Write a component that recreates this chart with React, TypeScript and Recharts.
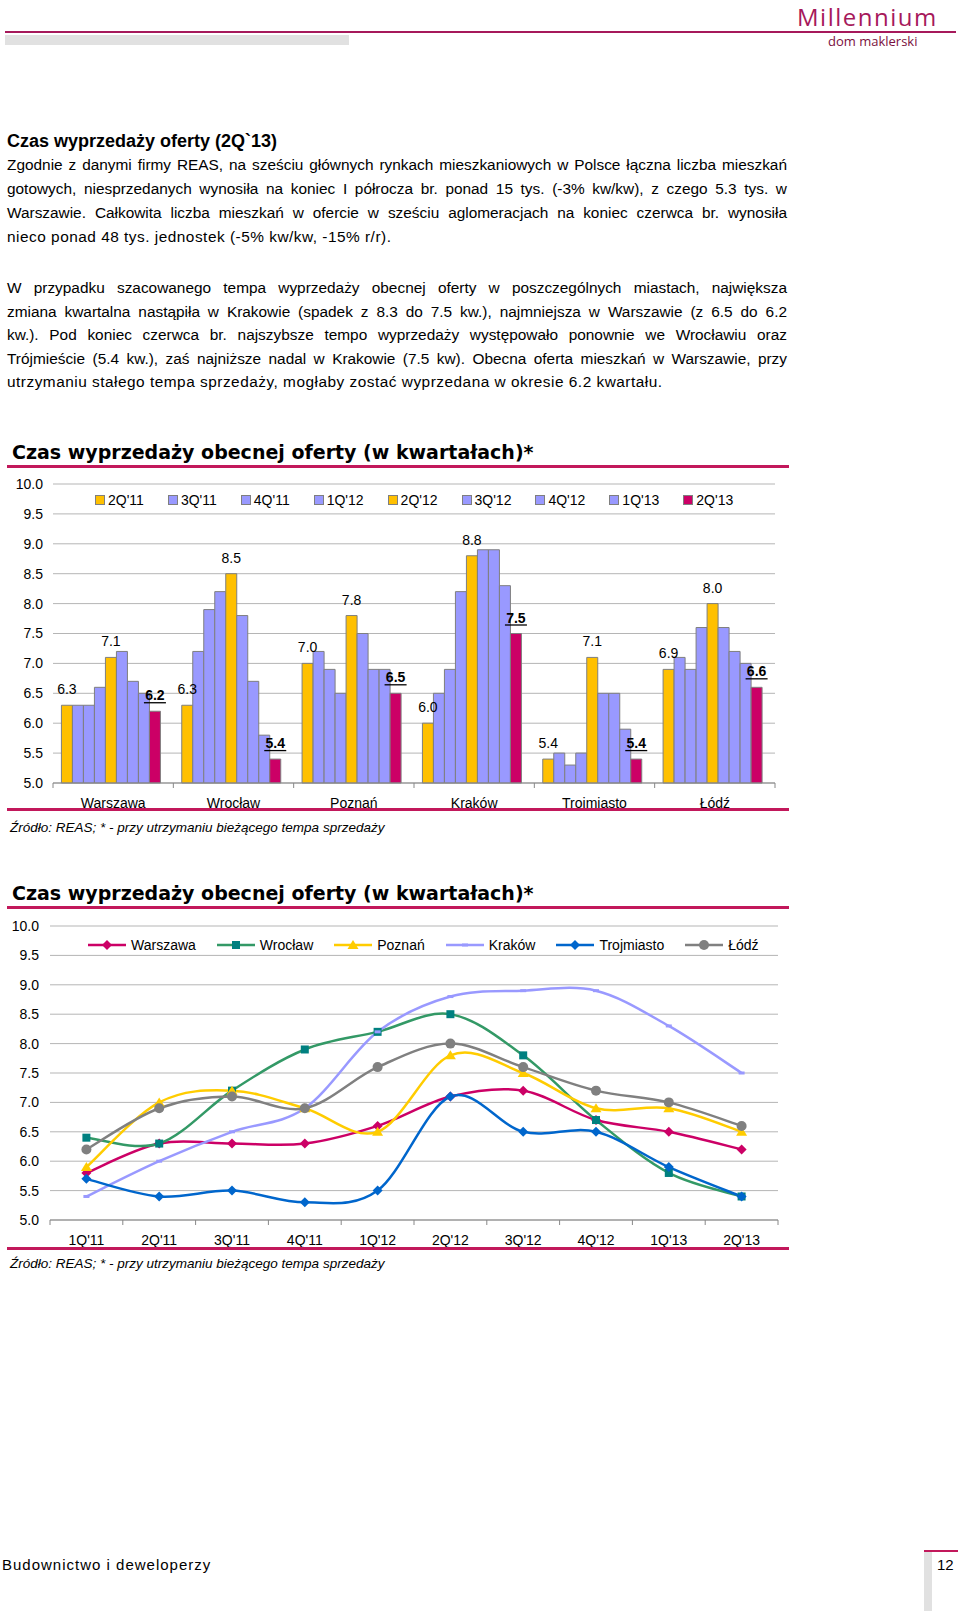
import React from 'react';
import { BarChart, Bar, LineChart, Line, XAxis, YAxis, CartesianGrid, Legend, LabelList } from 'recharts';

const FONT = '"Liberation Sans", Arial, sans-serif';
const TITLE_FONT = '"DejaVu Sans", Verdana, sans-serif';
const MAGENTA = '#C2185B';

const cities = ['Warszawa', 'Wrocław', 'Poznań', 'Kraków', 'Trojmiasto', 'Łódź'];
const quarters = ["1Q'11", "2Q'11", "3Q'11", "4Q'11", "1Q'12", "2Q'12", "3Q'12", "4Q'12", "1Q'13", "2Q'13"];
// bar chart starts from 2Q'11
const barQuarters = quarters.slice(1);

const warszawa = [5.8, 6.3, 6.3, 6.3, 6.6, 7.1, 7.2, 6.7, 6.5, 6.2];
const wroclaw = [6.4, 6.3, 7.2, 7.9, 8.2, 8.5, 7.8, 6.7, 5.8, 5.4];
const poznan = [5.9, 7.0, 7.2, 6.9, 6.5, 7.8, 7.5, 6.9, 6.9, 6.5];
const krakow = [5.4, 6.0, 6.5, 6.9, 8.2, 8.8, 8.9, 8.9, 8.3, 7.5];
const trojmiasto = [5.7, 5.4, 5.5, 5.3, 5.5, 7.1, 6.5, 6.5, 5.9, 5.4];
const lodz = [6.2, 6.9, 7.1, 6.9, 7.6, 8.0, 7.6, 7.2, 7.0, 6.6];

const yTicks = [5, 5.5, 6, 6.5, 7, 7.5, 8, 8.5, 9, 9.5, 10];

const cityValues = [warszawa, wroclaw, poznan, krakow, trojmiasto, lodz];

const barFill = ['#FFC000', '#9999FF', '#9999FF', '#9999FF', '#FFC000', '#9999FF', '#9999FF', '#9999FF', '#CC0066'];

const barData = cities.map((city, ci) => {
  const row: any = { city };
  barQuarters.forEach((q, qi) => {
    row['q' + qi] = cityValues[ci][qi + 1];
  });
  return row;
});

const lineData = quarters.map((q, i) => ({
  q,
  warszawa: warszawa[i],
  wroclaw: wroclaw[i],
  poznan: poznan[i],
  krakow: krakow[i],
  trojmiasto: trojmiasto[i],
  lodz: lodz[i],
}));

const lineSeries = [
  { key: 'warszawa', name: 'Warszawa', color: '#CC0066', marker: 'diamond', markerColor: '#CC0066' },
  { key: 'wroclaw', name: 'Wrocław', color: '#339966', marker: 'square', markerColor: '#008080' },
  { key: 'poznan', name: 'Poznań', color: '#FFCC00', marker: 'triangle', markerColor: '#FFCC00' },
  { key: 'krakow', name: 'Kraków', color: '#9999FF', marker: 'dash', markerColor: '#9999FF' },
  { key: 'trojmiasto', name: 'Trojmiasto', color: '#0066CC', marker: 'diamond', markerColor: '#0066CC' },
  { key: 'lodz', name: 'Łódź', color: '#808080', marker: 'circle', markerColor: '#808080' },
];

// smoothing similar to Excel's "smoothed line"
const excelCurve = (context: any) => {
  let pts: number[][] = [];
  return {
    areaStart() {},
    areaEnd() {},
    lineStart() {
      pts = [];
    },
    point(x: number, y: number) {
      pts.push([x, y]);
    },
    lineEnd() {
      const n = pts.length;
      if (!n) return;
      context.moveTo(pts[0][0], pts[0][1]);
      for (let i = 0; i < n - 1; i++) {
        const p0 = pts[i > 0 ? i - 1 : i];
        const p1 = pts[i];
        const p2 = pts[i + 1];
        const p3 = pts[i + 2 < n ? i + 2 : i + 1];
        context.bezierCurveTo(
          p1[0] + (p2[0] - p0[0]) / 6,
          p1[1] + (p2[1] - p0[1]) / 6,
          p2[0] - (p3[0] - p1[0]) / 6,
          p2[1] - (p3[1] - p1[1]) / 6,
          p2[0],
          p2[1]
        );
      }
    },
  };
};

const Marker = ({ kind, cx, cy, color }: any) => {
  switch (kind) {
    case 'diamond':
      return <path d={`M${cx},${cy - 5}L${cx + 5},${cy}L${cx},${cy + 5}L${cx - 5},${cy}Z`} fill={color} />;
    case 'square':
      return <rect x={cx - 4} y={cy - 4} width={8} height={8} fill={color} />;
    case 'triangle':
      return <path d={`M${cx},${cy - 5}L${cx + 5.5},${cy + 4}L${cx - 5.5},${cy + 4}Z`} fill={color} />;
    case 'dash':
      return <rect x={cx - 3} y={cy - 1.5} width={6} height={3} fill={color} />;
    default:
      return <circle cx={cx} cy={cy} r={5} fill={color} />;
  }
};

const makeBarLabel = (bold: boolean) => (props: any) => {
  const { x, y, width, value } = props;
  const cx = x + width / 2;
  return (
    <g>
      <text x={cx} y={y - 11} textAnchor="middle" fontSize={14} fontWeight={bold ? 700 : 400} fill="#000" fontFamily={FONT}>
        {Number(value).toFixed(1)}
      </text>
      {bold && <line x1={cx - 11} x2={cx + 11} y1={y - 8.5} y2={y - 8.5} stroke="#000" strokeWidth={1.3} />}
    </g>
  );
};

const makeTick = (band: number, count: number) => (props: any) => {
  const { x, y, payload, index } = props;
  const axisY = y - 8;
  const half = band / 2;
  return (
    <g>
      <line x1={x - half} x2={x - half} y1={axisY} y2={axisY + 5} stroke="#888" />
      {index === count - 1 && <line x1={x + half} x2={x + half} y1={axisY} y2={axisY + 5} stroke="#888" />}
      <text x={x} y={axisY + 25} textAnchor="middle" fontSize={14} fill="#000" fontFamily={FONT}>
        {payload.value}
      </text>
    </g>
  );
};

const BarLegend = () => (
  <div style={{ display: 'flex', gap: 24, fontSize: 14, fontFamily: FONT, color: '#000', whiteSpace: 'nowrap' }}>
    {barQuarters.map((q, qi) => (
      <div key={q} style={{ display: 'flex', alignItems: 'center' }}>
        <span style={{ width: 8, height: 8, background: barFill[qi], border: '1px solid #7f7f7f', marginRight: 3, boxSizing: 'content-box' }} />
        <span>{q}</span>
      </div>
    ))}
  </div>
);

const LineLegend = () => (
  <div style={{ display: 'flex', gap: 21, fontSize: 14, fontFamily: FONT, color: '#000', whiteSpace: 'nowrap' }}>
    {lineSeries.map((s) => (
      <div key={s.key} style={{ display: 'flex', alignItems: 'center' }}>
        <svg width={38} height={12}>
          <line x1={0} x2={38} y1={6} y2={6} stroke={s.color} strokeWidth={2.5} />
          <Marker kind={s.marker} cx={19} cy={6} color={s.markerColor} />
        </svg>
        <span style={{ marginLeft: 5 }}>{s.name}</span>
      </div>
    ))}
  </div>
);

const para1 = [
  'Zgodnie z danymi firmy REAS, na sześciu głównych rynkach mieszkaniowych w Polsce łączna liczba mieszkań',
  'gotowych, niesprzedanych wynosiła na koniec I półrocza br. ponad 15 tys. (-3% kw/kw), z czego 5.3 tys. w',
  'Warszawie. Całkowita liczba mieszkań w ofercie w sześciu aglomeracjach na koniec czerwca br. wynosiła',
  'nieco ponad 48 tys. jednostek (-5% kw/kw, -15% r/r).',
];
const para1Y = [165, 189, 213, 237];

const para2 = [
  'W przypadku szacowanego tempa wyprzedaży obecnej oferty w poszczególnych miastach, największa',
  'zmiana kwartalna nastąpiła w Krakowie (spadek z 8.3 do 7.5 kw.), najmniejsza w Warszawie (z 6.5 do 6.2',
  'kw.). Pod koniec czerwca br. najszybsze tempo wyprzedaży występowało ponownie we Wrocławiu oraz',
  'Trójmieście (5.4 kw.), zaś najniższe nadal w Krakowie (7.5 kw). Obecna oferta mieszkań w Warszawie, przy',
  'utrzymaniu stałego tempa sprzedaży, mogłaby zostać wyprzedana w okresie 6.2 kwartału.',
];
const para2Y = [288, 312, 335, 359, 382];

const TextLine = ({ text, cy, last }: any) => (
  <div
    style={{
      position: 'absolute',
      left: 7,
      top: cy - 10,
      width: 780,
      fontSize: 15.4,
      lineHeight: '20px',
      letterSpacing: last ? 0.5 : 0,
      textAlign: last ? 'left' : 'justify',
      textAlignLast: last ? 'left' : 'justify',
    }}
  >
    {text}
  </div>
);

const Rule = ({ y }: any) => (
  <div style={{ position: 'absolute', left: 7, top: y - 1, width: 782, height: 2.5, background: MAGENTA }} />
);

const ChartTitle = ({ cy }: any) => (
  <div
    style={{
      position: 'absolute',
      left: 12,
      top: cy - 12,
      fontFamily: TITLE_FONT,
      fontWeight: 700,
      fontSize: 19,
      lineHeight: '24px',
      whiteSpace: 'nowrap',
    }}
  >
    Czas wyprzedaży obecnej oferty (w kwartałach)*
  </div>
);

const Source = ({ cy }: any) => (
  <div style={{ position: 'absolute', left: 10, top: cy - 8, fontSize: 13.5, lineHeight: '16px', fontStyle: 'italic', whiteSpace: 'nowrap' }}>
    Źródło: REAS; * - przy utrzymaniu bieżącego tempa sprzedaży
  </div>
);

const BAR_BAND = 722 / 6;
const LINE_BAND = 728 / 10;

export default function App() {
  return (
    <div
      style={{
        position: 'absolute',
        left: 0,
        top: 0,
        width: 960,
        height: 1611,
        background: '#fff',
        fontFamily: FONT,
        color: '#000',
        overflow: 'hidden',
      }}
    >
      {/* header */}
      <div style={{ position: 'absolute', left: 797, top: 1, fontFamily: '"Open Sans", sans-serif', fontSize: 24, lineHeight: '32px', letterSpacing: 1.5, color: '#A6195B', whiteSpace: 'nowrap' }}>
        Millennium
      </div>
      <div style={{ position: 'absolute', left: 5, top: 31, width: 951, height: 2, background: '#A6195B' }} />
      <div style={{ position: 'absolute', left: 828, top: 34, fontFamily: '"Open Sans", sans-serif', fontSize: 13, lineHeight: '14px', color: '#7A1040', whiteSpace: 'nowrap' }}>
        dom maklerski
      </div>
      <div style={{ position: 'absolute', left: 5, top: 35, width: 344, height: 10, background: '#E1E1E1' }} />

      <div style={{ position: 'absolute', left: 7, top: 130, fontWeight: 700, fontSize: 18, lineHeight: '22px', whiteSpace: 'nowrap' }}>
        Czas wyprzedaży oferty (2Q`13)
      </div>
      {para1.map((t, i) => (
        <TextLine key={'a' + i} text={t} cy={para1Y[i]} last={i === para1.length - 1} />
      ))}
      {para2.map((t, i) => (
        <TextLine key={'b' + i} text={t} cy={para2Y[i]} last={i === para2.length - 1} />
      ))}

      {/* chart 1 */}
      <ChartTitle cy={452} />
      <Rule y={466} />
      <div style={{ position: 'absolute', left: 0, top: 470 }}>
        <BarChart width={790} height={345} data={barData} margin={{ top: 14, right: 15, bottom: 7, left: 0 }} barCategoryGap="7%" barGap={0}>
          <CartesianGrid vertical={false} stroke="#b5b5b5" />
          <XAxis
            dataKey="city"
            interval={0}
            height={25}
            stroke="#888"
            tickLine={false}
            tick={makeTick(BAR_BAND, cities.length)}
          />
          <YAxis
            domain={[5, 10]}
            ticks={yTicks}
            width={53}
            axisLine={false}
            tickLine={false}
            tickMargin={4}
            tickFormatter={(v: number) => v.toFixed(1)}
            tick={{ fontSize: 14, fill: '#000', fontFamily: FONT }}
          />
          <Legend
            layout="horizontal"
            verticalAlign="middle"
            align="center"
            content={BarLegend}
            wrapperStyle={{ top: 22, left: 95, width: 'auto', height: 'auto' }}
          />
          {barQuarters.map((q, qi) => (
            <Bar key={q} dataKey={'q' + qi} name={q} fill={barFill[qi]} stroke="#7f7f7f" strokeWidth={1} isAnimationActive={false}>
              {(qi === 0 || qi === 4) && <LabelList dataKey={'q' + qi} content={makeBarLabel(false)} />}
              {qi === barQuarters.length - 1 && <LabelList dataKey={'q' + qi} content={makeBarLabel(true)} />}
            </Bar>
          ))}
        </BarChart>
      </div>
      <Rule y={809} />
      <Source cy={828} />

      {/* chart 2 */}
      <ChartTitle cy={893} />
      <Rule y={907} />
      <div style={{ position: 'absolute', left: 0, top: 912 }}>
        <LineChart width={790} height={345} data={lineData} margin={{ top: 14, right: 12, bottom: 12, left: 0 }}>
          <CartesianGrid vertical={false} stroke="#b5b5b5" />
          <XAxis
            dataKey="q"
            interval={0}
            height={25}
            stroke="#888"
            tickLine={false}
            padding={{ left: LINE_BAND / 2, right: LINE_BAND / 2 }}
            tick={makeTick(LINE_BAND, quarters.length)}
          />
          <YAxis
            domain={[5, 10]}
            ticks={yTicks}
            width={50}
            axisLine={false}
            tickLine={false}
            tickMargin={5}
            tickFormatter={(v: number) => v.toFixed(1)}
            tick={{ fontSize: 14, fill: '#000', fontFamily: FONT }}
          />
          <Legend
            layout="horizontal"
            verticalAlign="middle"
            align="center"
            content={LineLegend}
            wrapperStyle={{ top: 25, left: 88, width: 'auto', height: 'auto' }}
          />
          {lineSeries.map((s) => (
            <Line
              key={s.key}
              dataKey={s.key}
              name={s.name}
              type={excelCurve as any}
              stroke={s.color}
              strokeWidth={2.5}
              isAnimationActive={false}
              dot={(p: any) => <Marker key={s.key + p.index} kind={s.marker} cx={p.cx} cy={p.cy} color={s.markerColor} />}
              activeDot={false}
            />
          ))}
        </LineChart>
      </div>
      <Rule y={1248} />
      <Source cy={1264} />

      {/* footer */}
      <div style={{ position: 'absolute', left: 2, top: 1556, fontSize: 15, lineHeight: '18px', letterSpacing: 1, whiteSpace: 'nowrap' }}>
        Budownictwo i deweloperzy
      </div>
      <div style={{ position: 'absolute', left: 924, top: 1550, width: 34, height: 2, background: MAGENTA }} />
      <div style={{ position: 'absolute', left: 924, top: 1552, width: 8, height: 59, background: '#E1E1E1' }} />
      <div style={{ position: 'absolute', left: 937, top: 1556, fontSize: 15, lineHeight: '18px' }}>12</div>
    </div>
  );
}
